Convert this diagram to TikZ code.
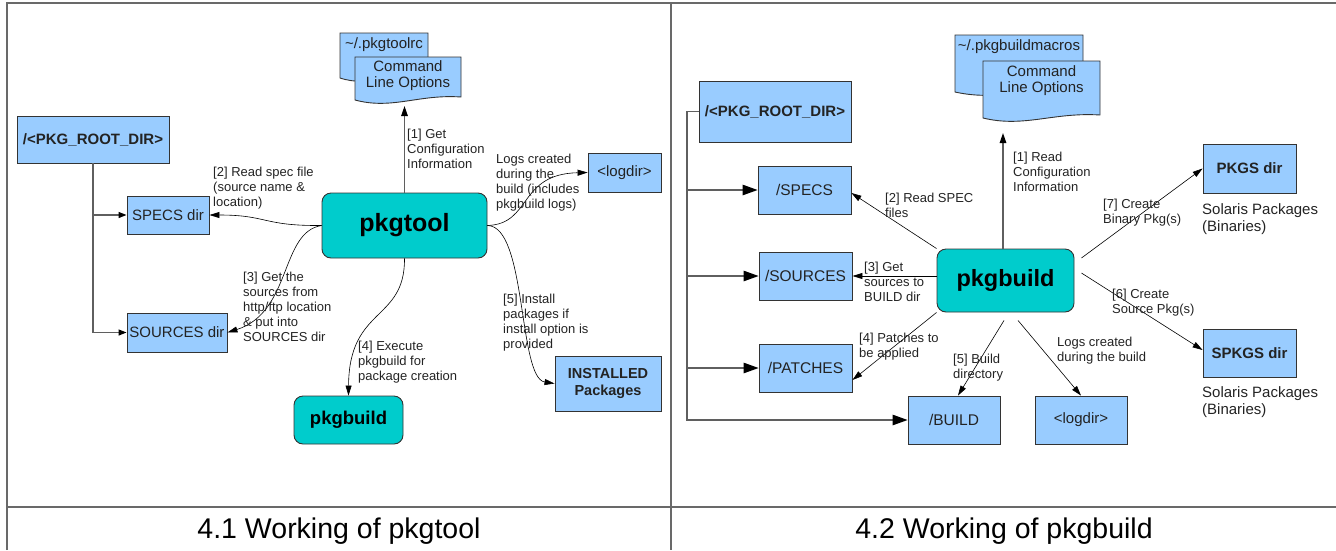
\documentclass[tikz,border=0pt]{standalone}
\usepackage{fontspec}
\setmainfont{Liberation Sans}
\usetikzlibrary{arrows.meta}

\definecolor{dirblue}{RGB}{153,204,255}
\definecolor{toolteal}{RGB}{0,204,204}
\definecolor{framegray}{RGB}{105,105,105}
\definecolor{treegray}{RGB}{95,95,95}
\definecolor{inkgray}{RGB}{35,35,35}

\newcommand\fsz[2]{\fontsize{#1}{#2}\selectfont}
% document symbol: top-left (#1,#2), right edge #3, bottom-left corner at height #4
\newcommand\docpath[4]{%
  \draw[docshape] (#1,#2) -- (#3,#2) -- (#3,{#4-3})
    .. controls ({#1+0.6*(#3-#1)},{#4-6}) and ({#1+0.35*(#3-#1)},{#4+10}) .. (#1,#4) -- cycle;}

\begin{document}
\begin{tikzpicture}[x=1pt,y=-1pt,
  dirbox/.style={draw=black!80, fill=dirblue, line width=0.9pt, text=inkgray,
    inner sep=0pt, font=\fsz{15}{17}, align=center},
  toolbox/.style={draw=black!80, fill=toolteal, rounded corners=9pt, line width=0.9pt,
    text=black, inner sep=0pt},
  docshape/.style={draw=black!80, fill=dirblue, line width=0.9pt},
  doctext/.style={inner sep=0pt, align=center, text=inkgray, font=\fsz{15}{16.5}},
  lbl/.style={anchor=north west, inner sep=0pt, align=left, text=inkgray, font=\fsz{13}{15}},
  note/.style={anchor=north west, inner sep=0pt, align=left, text=inkgray, font=\fsz{15}{17}},
  tree/.style={draw=treegray, line width=1.2pt},
  smalltip/.style={-{Triangle[length=8pt,width=6pt,color=black]}},
  bigtip/.style={-{Triangle[length=15pt,width=10.5pt,color=black]}},
  flow/.style={draw=black, line width=0.6pt, -{Triangle[length=10pt,width=6pt]}},
  cfg/.style={draw=treegray, line width=1.3pt, -{Triangle[length=10pt,width=6.5pt,color=black]}},
  caption/.style={inner sep=0pt, text=black, font=\fsz{28.5}{30}}
]
\useasboundingbox (0,0) rectangle (1336,550);

% table frame
\draw[framegray, line width=1.4pt] (7,550) -- (7,3) -- (1336,3);
\draw[framegray, line width=1.4pt] (671,3) -- (671,550);
\draw[framegray, line width=1.4pt] (7,507) -- (1336,507);

\node[caption] (cap1) at (339,531) {4.1 Working of pkgtool};
\node[caption] (cap2) at (1004,531) {4.2 Working of pkgbuild};

% ---------------- pkgtool ----------------
\docpath{340}{33}{428}{78}
\docpath{355}{57}{461}{100}
\node[doctext] (rcL) at (384,45) {\textasciitilde/.pkgtoolrc};
\node[doctext] (cmdL) at (408,75.5) {Command\\Line Options};
\coordinate (cfgL) at (404.5,106);

\node[dirbox, minimum width=152pt, minimum height=47pt, font=\bfseries\fsz{15}{17}]
  (rootL) at (93,139.5) {/<PKG\_ROOT\_DIR>};
\node[dirbox, minimum width=82pt, minimum height=38pt] (specsL) at (168,215) {SPECS dir};
\node[dirbox, minimum width=100pt, minimum height=39pt] (srcL) at (177,332.5) {SOURCES dir};
\node[toolbox, minimum width=165pt, minimum height=65pt, font=\bfseries\fsz{25}{27}]
  (toolL) at (404.5,225.5) {pkgtool};
\node[toolbox, minimum width=109pt, minimum height=48pt, font=\bfseries\fsz{18.5}{20}]
  (pbL) at (348.5,420) {pkgbuild};
\node[dirbox, minimum width=73pt, minimum height=39pt] (logL) at (624.5,172.5) {<logdir>};
\node[dirbox, minimum width=106pt, minimum height=55pt, font=\bfseries\fsz{14.5}{17}]
  (instL) at (608,383.5) {INSTALLED\\Packages};

% directory tree
\draw[tree, smalltip] (rootL.south) |- (srcL.west);
\draw[tree, smalltip] (rootL.south |- specsL.west) -- (specsL.west);

% flows
\draw[cfg] (toolL.north -| cfgL) -- (cfgL);
\draw[flow] (toolL.west) .. controls (262,226) and (268,215) .. (specsL.east);
\draw[flow] (toolL.west) .. controls (280,232) and (292,312) .. (srcL.east);
\draw[flow] (toolL.south) .. controls (405,322) and (349,306) .. (pbL.north);
\draw[flow] (toolL.east) .. controls (527,226) and (518,378) .. (instL.west);
\draw[flow] (toolL.east) .. controls (532,224) and (518,174) .. (logL.west);

\node[lbl] (l1L) at (407,129) {[1] Get\\Configuration\\Information};
\node[lbl] (l2L) at (213,167) {[2] Read spec file\\(source name \&\\location)};
\node[lbl] (l3L) at (243,272) {[3] Get the\\sources from\\http/ftp location\\\& put into\\SOURCES dir};
\node[lbl] (logsL) at (496,154) {Logs created\\during the\\build (includes\\pkgbuild logs)};
\node[lbl] (l4L) at (358,341) {[4] Execute\\pkgbuild for\\package creation};
\node[lbl] (l5L) at (503,294) {[5] Install\\packages if\\install option is\\provided};

% ---------------- pkgbuild ----------------
\docpath{955}{35}{1083}{92}
\docpath{983}{61}{1100}{118}
\node[doctext] (rcR) at (1019,47) {\textasciitilde/.pkgbuildmacros};
\node[doctext] (cmdR) at (1041.5,80.5) {Command\\Line Options};
\coordinate (cfgR) at (1003,133);

\node[dirbox, minimum width=152pt, minimum height=61pt, font=\bfseries\fsz{15}{17}]
  (rootR) at (775,111.5) {/<PKG\_ROOT\_DIR>};
\node[dirbox, minimum width=93pt, minimum height=48pt, font=\fsz{15.5}{17}] (specsR) at (804.5,190) {/SPECS};
\node[dirbox, minimum width=93pt, minimum height=48pt, font=\fsz{15.5}{17}] (srcR) at (805.5,276) {/SOURCES};
\node[dirbox, minimum width=93pt, minimum height=48pt, font=\fsz{15.5}{17}] (patR) at (805.5,368) {/PATCHES};
\node[dirbox, minimum width=92pt, minimum height=48pt, font=\fsz{15.5}{17}] (buildR) at (954,420) {/BUILD};
\node[dirbox, minimum width=92pt, minimum height=48pt] (logR) at (1081,420) {<logdir>};
\node[toolbox, minimum width=137pt, minimum height=63pt, font=\bfseries\fsz{23.5}{25}]
  (pbR) at (1005.5,280.5) {pkgbuild};
\node[dirbox, minimum width=93pt, minimum height=49pt, font=\bfseries\fsz{15}{17}]
  (pkgsR) at (1249.5,168.5) {PKGS dir};
\node[dirbox, minimum width=93pt, minimum height=48pt, font=\bfseries\fsz{15}{17}]
  (spkgsR) at (1249.5,353) {SPKGS dir};

% directory tree
\coordinate (spine) at (687,111.5);
\draw[tree, bigtip] (rootR.west) -- (spine) |- (buildR.west);
\draw[tree, bigtip] (spine |- specsR.west) -- (specsR.west);
\draw[tree, bigtip] (spine |- srcR.west) -- (srcR.west);
\draw[tree, bigtip] (spine |- patR.west) -- (patR.west);

% flows
\draw[cfg] (pbR.north -| cfgR) -- (cfgR);
\draw[flow] (pbR.north west) -- ([yshift=-3pt]specsR.east);
\draw[flow] (pbR.west |- srcR.east) -- (srcR.east);
\draw[flow] (pbR.south west) -- ([yshift=-12pt]patR.east);
\draw[flow] ([xshift=-1.5pt,yshift=-8pt]pbR.south) -- ([xshift=4pt]buildR.north);
\draw[flow] ([xshift=12.5pt,yshift=-8pt]pbR.south) -- (logR.north);
\draw[flow] ([xshift=7pt,yshift=7.5pt]pbR.east) -- ([yshift=3pt]spkgsR.west);
\draw[flow] ([xshift=7pt,yshift=22.5pt]pbR.east) -- (pkgsR.west);

\node[lbl] (l1R) at (1013,152) {[1] Read\\Configuration\\Information};
\node[lbl] (l2R) at (885,193) {[2] Read SPEC\\files};
\node[lbl] (l3R) at (864,262) {[3] Get\\sources to\\BUILD dir};
\node[lbl] (l4R) at (859,333) {[4] Patches to\\be applied};
\node[lbl] (l5R) at (953,354) {[5] Build\\directory};
\node[lbl] (logsR) at (1057,337) {Logs created\\during the build};
\node[lbl] (l6R) at (1112,289) {[6] Create\\Source Pkg(s)};
\node[lbl] (l7R) at (1103,199) {[7] Create\\Binary Pkg(s)};
\node[note] (sol1) at (1202,203) {Solaris Packages\\(Binaries)};
\node[note] (sol2) at (1202,386) {Solaris Packages\\(Binaries)};
\end{tikzpicture}
\end{document}
